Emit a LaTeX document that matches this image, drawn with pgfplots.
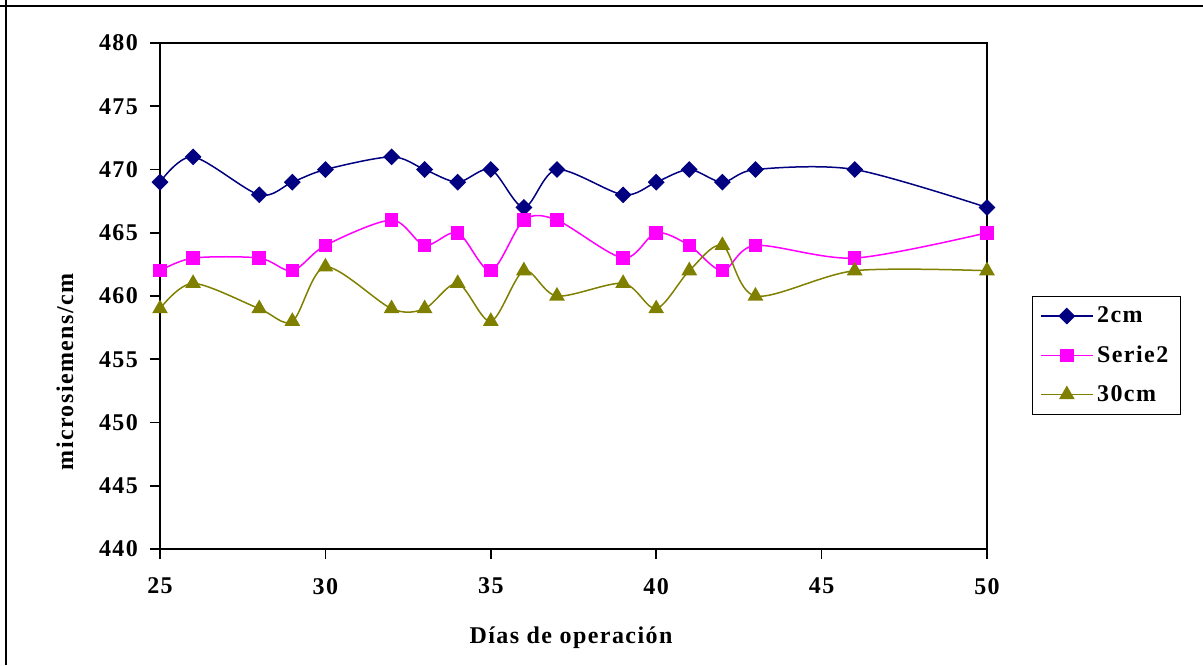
\documentclass[border=0pt]{standalone}
\usepackage{fontspec}
\setmainfont{Liberation Serif}[LetterSpace=6]
\usepackage{pgfplots}
\pgfplotsset{compat=1.18}
\definecolor{cnavy}{HTML}{000080}
\definecolor{cmag}{HTML}{FF00FF}
\definecolor{colive}{HTML}{808000}
\begin{document}
\begin{tikzpicture}
\path[use as bounding box] (0pt,0pt) rectangle (601.5pt,-332.5pt);
\draw[line width=1.2pt] (0pt,-3pt) -- (601.5pt,-3pt);
\draw[line width=1.1pt] (3pt,0pt) -- (3pt,-332.5pt);
\begin{axis}[
  at={(80pt,-274.5pt)}, anchor=south west,
  scale only axis, width=413.5pt, height=253pt,
  xmin=25, xmax=50, ymin=440, ymax=480,
  xtick={25,30,35,40,45,50},
  ytick={440,445,...,480},
  tick align=outside, xtick pos=bottom, ytick pos=left,
  major tick length=5pt,
  tick style={black, line width=0.8pt},
  axis line style={line width=0.9pt},
  /pgf/number format/assume math mode=true,
  ticklabel style={font=\fontsize{12}{14}\selectfont\bfseries},
  xticklabel style={yshift=-6pt},
  yticklabel style={xshift=-2.5pt},
  xlabel={Días de operación},
  ylabel={microsiemens/cm},
  every axis x label/.style={at={(rel axis cs:0.497,-0.186)}, anchor=base, font=\fontsize{12}{14}\selectfont\bfseries},
  every axis y label/.style={at={(rel axis cs:-0.1149,0.35)}, anchor=center, rotate=90, font=\fontsize{12}{14}\selectfont\bfseries},
  legend style={at={(rel axis cs:1.0544,0.5)}, anchor=north west, draw=black, line width=0.6pt,
    font=\fontsize{12}{14}\selectfont\bfseries, row sep=6pt, inner xsep=4pt, inner ysep=3pt},
  legend cell align=left,
  legend image code/.code={\draw[mark repeat=2,mark phase=2,#1] plot coordinates {(0pt,0pt) (12.75pt,0pt) (25.5pt,0pt)};},
]
\addplot[cnavy, line width=0.75pt, smooth, mark=square*, mark size=2.6pt, mark options={rotate=45, fill=cnavy, draw=cnavy, solid}] coordinates {
(25,469)(26,471)(28,468)(29,469)(30,470)(32,471)(33,470)(34,469)(35,470)(36,467)(37,470)(39,468)(40,469)(41,470)(42,469)(43,470)(46,470)(50,467)};
\addlegendentry{2cm}
\addplot[cmag, line width=0.75pt, smooth, mark=square*, mark size=3pt, mark options={fill=cmag, draw=cmag, solid}] coordinates {
(25,462)(26,463)(28,463)(29,462)(30,464)(32,466)(33,464)(34,465)(35,462)(36,466)(37,466)(39,463)(40,465)(41,464)(42,462)(43,464)(46,463)(50,465)};
\addlegendentry{Serie2}
\addplot[colive, line width=0.75pt, smooth, mark=triangle*, mark size=3.8pt, mark options={fill=colive, draw=colive, solid}] coordinates {
(25,459)(26,461)(28,459)(29,458)(30,462.3)(32,459)(33,459)(34,461)(35,458)(36,462)(37,460)(39,461)(40,459)(41,462)(42,464)(43,460)(46,462)(50,462)};
\addlegendentry{30cm}
\end{axis}
\end{tikzpicture}
\end{document}
